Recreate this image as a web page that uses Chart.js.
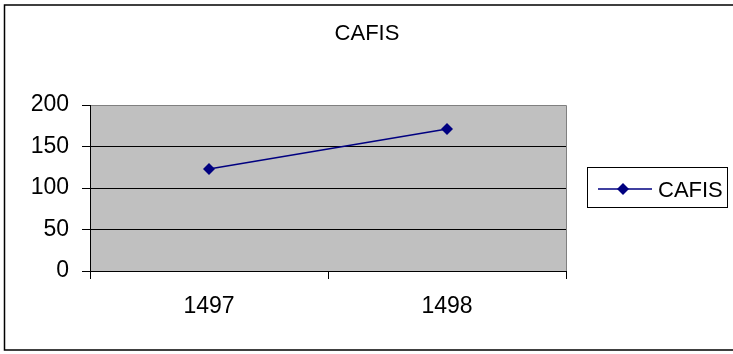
<!DOCTYPE html>
<html>
<head>
<meta charset="utf-8">
<script src="https://cdn.jsdelivr.net/npm/chart.js@4/dist/chart.umd.min.js"></script>
<style>
  html, body { margin: 0; padding: 0; background: #fff; }
  #wrap { width: 733px; height: 354px; }
</style>
</head>
<body>
<div id="wrap"><canvas id="myChart" width="733" height="354"></canvas></div>
<script>
var titulo = 'CAFIS';
var categorias = ['1497', '1498'];
var valores_cafis = [123, 171];
var ticks_y = [0, 50, 100, 150, 200];

var FONT = '"Liberation Sans", Arial, sans-serif';

// fondo gris del area, marco exterior, titulo y leyenda al estilo Excel
var decoracion = {
    id: 'decoracion',
    beforeDraw: function(chart) {
        var ctx = chart.ctx;
        var a = chart.chartArea;
        ctx.save();
        ctx.fillStyle = '#ffffff';
        ctx.fillRect(0, 0, chart.width, chart.height);
        ctx.fillStyle = '#c0c0c0';
        ctx.fillRect(a.left, a.top, a.right - a.left, a.bottom - a.top);
        ctx.strokeStyle = '#808080';
        ctx.lineWidth = 1;
        ctx.beginPath();
        ctx.moveTo(a.left, a.top + 0.5);
        ctx.lineTo(a.right + 0.5, a.top + 0.5);
        ctx.lineTo(a.right + 0.5, a.bottom);
        ctx.stroke();
        ctx.restore();
    },
    afterDraw: function(chart) {
        var ctx = chart.ctx;
        ctx.save();
        // marco exterior
        ctx.strokeStyle = '#000000';
        ctx.lineWidth = 1.5;
        ctx.strokeRect(4.5, 5, chart.width + 10, 345);
        // titulo
        ctx.fillStyle = '#000000';
        ctx.font = '22px ' + FONT;
        ctx.textAlign = 'center';
        ctx.textBaseline = 'alphabetic';
        ctx.fillText(titulo, 367, 40);
        // leyenda
        ctx.strokeStyle = '#000000';
        ctx.lineWidth = 1;
        ctx.strokeRect(587.5, 167.5, 140, 40);
        ctx.strokeStyle = '#000080';
        ctx.lineWidth = 1.5;
        ctx.beginPath();
        ctx.moveTo(598, 189);
        ctx.lineTo(652, 189);
        ctx.stroke();
        ctx.fillStyle = '#000080';
        ctx.beginPath();
        ctx.moveTo(623, 183);
        ctx.lineTo(629, 189);
        ctx.lineTo(623, 195);
        ctx.lineTo(617, 189);
        ctx.closePath();
        ctx.fill();
        ctx.fillStyle = '#000000';
        ctx.font = '22px ' + FONT;
        ctx.textAlign = 'left';
        ctx.fillText(categorias.length ? 'CAFIS' : '', 658, 197);
        ctx.restore();
    }
};

var ctx = document.getElementById('myChart').getContext('2d');
var myChart = new Chart(ctx, {
    type: 'line',
    data: {
        labels: categorias,
        datasets: [{
            label: 'CAFIS',
            data: valores_cafis,
            borderColor: '#000080',
            backgroundColor: '#000080',
            borderWidth: 1.5,
            pointStyle: 'rectRot',
            pointRadius: 6,
            pointHoverRadius: 6,
            pointBorderWidth: 0,
            tension: 0
        }]
    },
    options: {
        responsive: false,
        animation: false,
        events: [],
        layout: { padding: { left: 0, top: 105, right: 167, bottom: 0 } },
        plugins: {
            legend: { display: false },
            title: { display: false },
            tooltip: { enabled: false }
        },
        scales: {
            x: {
                offset: true,
                grid: {
                    offset: true,
                    drawOnChartArea: false,
                    color: '#000000',
                    tickLength: 8
                },
                border: { color: '#000000', width: 1 },
                ticks: {
                    color: '#000000',
                    padding: 14,
                    maxRotation: 0,
                    font: { family: FONT, size: 23 }
                },
                afterFit: function(s) { s.height = 83; }
            },
            y: {
                min: 0,
                max: 200,
                afterBuildTicks: function(s) {
                    s.ticks = ticks_y.map(function(v) { return { value: v }; });
                },
                grid: {
                    color: function(c) { return c.tick && c.tick.value === 200 ? '#808080' : '#000000'; },
                    tickColor: '#000000',
                    tickLength: 8,
                    lineWidth: 1
                },
                border: { color: '#000000', width: 1 },
                ticks: {
                    color: '#000000',
                    padding: 13,
                    font: { family: FONT, size: 23 }
                },
                afterFit: function(s) { s.width = 90; }
            }
        }
    },
    plugins: [decoracion]
});
</script>
</body>
</html>
